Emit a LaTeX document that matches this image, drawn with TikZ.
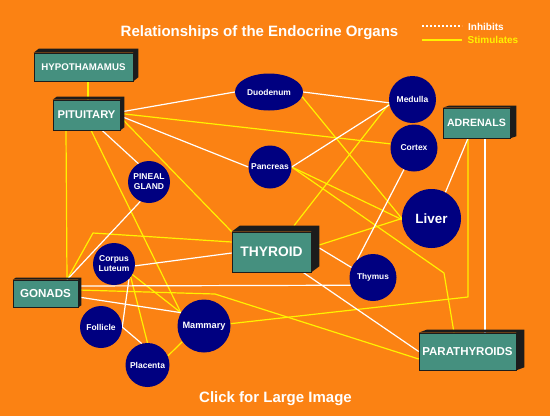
\documentclass[tikz,border=0pt]{standalone}
\usepackage{fontspec}
\setmainfont{Liberation Sans}
\usetikzlibrary{calc,shapes.geometric}
\definecolor{bgorange}{HTML}{FB8213}
\definecolor{organteal}{HTML}{45907F}
\definecolor{glandnavy}{HTML}{000080}
\definecolor{boxdark}{HTML}{1C1C1C}
\pgfdeclarelayer{backdrop}
\pgfdeclarelayer{lines}
\pgfsetlayers{backdrop,lines,main}
\newcommand\organdepth[3]{%
  \fill[boxdark] (#1.north west) -- ++(#2pt,#3pt) -- ([shift={(#2pt,#3pt)}]#1.north east)
    -- ([shift={(#2pt,#3pt)}]#1.south east) -- (#1.south east) -- (#1.north east) -- cycle;}
\begin{document}
\begin{tikzpicture}[x=1pt,y=-1pt,
  organ/.style={rectangle, fill=organteal, draw=boxdark, line width=0.6pt, inner sep=0pt, text=white},
  gland/.style={circle, fill=glandnavy, inner sep=0pt, text=white, align=center,
     font=\bfseries\fontsize{8.5}{10}\selectfont},
  stim/.style={draw=yellow, line width=1.2pt, line join=round},
  inhib/.style={draw=white, line width=1.2pt, line join=round},
  label/.style={text=white, font=\bfseries\fontsize{15}{18}\selectfont, inner sep=0pt}
]
\begin{pgfonlayer}{backdrop}
\fill[bgorange] (0,0) rectangle (550,416);
\end{pgfonlayer}
\useasboundingbox (0,0) rectangle (550,416);

% organs (boxes)
\node[organ, minimum width=99pt, minimum height=28pt, font=\bfseries\fontsize{9.7}{11}\selectfont] (hyp) at (83.5,67) {HYPOTHAMAMUS};
\organdepth{hyp}{5}{4}
\node[organ, minimum width=67pt, minimum height=30pt, font=\bfseries\fontsize{11.2}{13}\selectfont] (pit) at (86.5,115) {PITUITARY};
\organdepth{pit}{4}{3}
\node[organ, minimum width=67pt, minimum height=30pt, font=\bfseries\fontsize{10.6}{12}\selectfont] (adr) at (476.5,123) {ADRENALS};
\organdepth{adr}{6}{2}
\node[organ, minimum width=79pt, minimum height=40pt, font=\bfseries\fontsize{13.8}{16}\selectfont] (thy) at (271.5,252) {THYROID};
\organdepth{thy}{8}{6}
\node[organ, minimum width=65pt, minimum height=27pt, font=\bfseries\fontsize{11.6}{13}\selectfont] (gon) at (45.5,293.5) {GONADS};
\organdepth{gon}{3}{2}
\node[organ, minimum width=97pt, minimum height=37pt, font=\bfseries\fontsize{11.5}{13}\selectfont] (par) at (467.5,351.5) {PARATHYROIDS};
\organdepth{par}{8}{3}

% glands (circles)
\node[ellipse, fill=glandnavy, inner sep=0pt, minimum width=68pt, minimum height=37pt, text=white,
      font=\bfseries\fontsize{8.4}{10}\selectfont] (duo) at (269,92) {Duodenum};
\node[gland, minimum size=47pt] (med) at (412.5,99.5) {Medulla};
\node[gland, minimum size=47pt] (cor) at (414,148) {Cortex};
\node[gland, minimum size=43pt] (pan) at (270,167) {Pancreas};
\node[gland, minimum size=42pt] (pin) at (149,182) {PINEAL\\GLAND};
\node[gland, minimum size=59pt, font=\bfseries\fontsize{13.4}{15}\selectfont] (liv) at (431.5,218.5) {Liver};
\node[gland, minimum size=47pt, font=\bfseries\fontsize{8.3}{10}\selectfont] (thm) at (373,277.5) {Thymus};
\node[gland, minimum size=42pt] (cl) at (114,264) {Corpus\\Luteum};
\node[gland, minimum size=42pt] (fol) at (101,327) {Follicle};
\node[gland, minimum size=53pt, font=\bfseries\fontsize{9.2}{11}\selectfont] (mam) at (204,326) {Mammary};
\node[gland, minimum size=44pt] (pla) at (147.5,365) {Placenta};

% connectors
\begin{pgfonlayer}{lines}
% stimulates
\draw[stim] ([xshift=4.5pt]hyp.south) -- ([xshift=1.5pt]pit.north);
\draw[stim] ([yshift=1.5pt]pit.east) -- (cor.170);
\draw[stim] ([yshift=-2pt]pit.east) -- (thy.north west);
\draw[stim] ([xshift=4.5pt]pit.south) -- (mam.150);
\draw[stim] ([xshift=-20.5pt]pit.south) -- ([xshift=21.5pt]gon.north);
\draw[stim] ([xshift=21.5pt]gon.north) -- (93,233) -- ([yshift=10pt]thy.west);
\draw[stim] ([yshift=3.5pt]gon.east) -- (215,294) -- ([yshift=-7.5pt]par.west);
\draw[stim] (mam.5) -- (468,297) -- ([xshift=-8.5pt]adr.south);
\draw[stim] (pan.east) -- (liv.182);
\draw[stim] (pan.east) -- (444,273) -- ([xshift=-13.5pt]par.north);
\draw[stim] (duo.-8) -- (liv.180);
\draw[stim] ([xshift=22.5pt,yshift=6pt]thy.north) -- (med.190);
\draw[stim] ([xshift=8pt,yshift=7pt]thy.east) -- (liv.180);
\draw[stim] (cl.-30) -- (mam.150);
\draw[stim] (cl.-38) -- (pla.north);
\draw[stim] (pla.24) -- (mam.216);
% inhibits
\draw[inhib] ([yshift=3pt]pit.east) -- (duo.west);
\draw[inhib] ([yshift=-1pt]pit.east) -- (pan.west);
\draw[inhib] ([xshift=15.5pt]pit.south) -- (pin.120);
\draw[inhib] (pin.246) -- ([xshift=21.5pt]gon.north);
\draw[inhib] (cl.-5) -- ([yshift=-1pt]thy.west);
\draw[inhib] (duo.east) -- (med.188);
\draw[inhib] (pan.east) -- (med.193);
\draw[inhib] (cor.245) -- (thm.132);
\draw[inhib] (liv.62) -- ([xshift=-8.5pt]adr.south);
\draw[inhib] ([xshift=8.5pt]adr.south) -- ([xshift=17.5pt]par.north);
\draw[inhib] ([xshift=8pt,yshift=4pt]thy.east) -- (thm.155);
\draw[inhib] ([xshift=31.5pt]thy.south) -- (par.west);
\draw[inhib] ([yshift=7.5pt]gon.east) -- (thm.199);
\draw[inhib] ([yshift=-3.5pt]gon.east) -- (mam.150);
\draw[inhib] (fol.east) -- (cl.-45);
\draw[inhib] (fol.east) -- (pla.105);
\end{pgfonlayer}

% texts
\node[label, anchor=base] (title) at (259.5,36) {Relationships of the Endocrine Organs};
\node[label, anchor=base] (click) at (275.5,402) {Click for Large Image};

% legend
\coordinate (inhA) at (422,26);
\coordinate (inhB) at (462,26);
\coordinate (stmA) at (422,40);
\coordinate (stmB) at (462,40);
\draw[white, line width=1.8pt, dash pattern=on 2pt off 2pt] (inhA) -- (inhB);
\draw[yellow, line width=1.8pt] (stmA) -- (stmB);
\node[anchor=base west, inner sep=0pt, text=white, font=\bfseries\fontsize{10}{12}\selectfont] (inhtext) at (468,30) {Inhibits};
\node[anchor=base west, inner sep=0pt, text=yellow, font=\bfseries\fontsize{10}{12}\selectfont] (stmtext) at (467.5,43.5) {Stimulates};
\end{tikzpicture}
\end{document}
